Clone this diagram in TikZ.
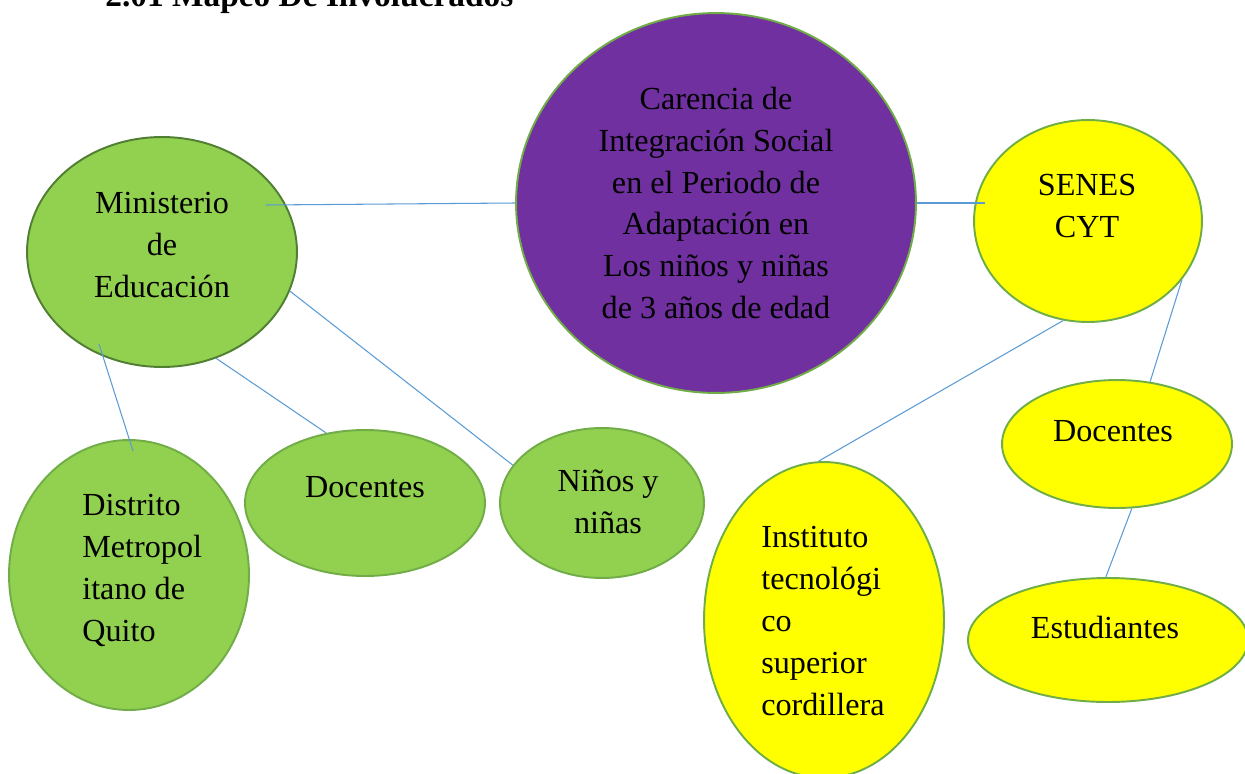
\documentclass[tikz,border=0pt]{standalone}
\usepackage{fontspec}
\setmainfont{Liberation Serif}
\usetikzlibrary{shapes.geometric}

\definecolor{leafgreen}{HTML}{92D050}
\definecolor{rimgreen}{HTML}{70AD47}
\definecolor{darkrim}{HTML}{507E32}
\definecolor{probpurple}{HTML}{7030A0}
\definecolor{sunyellow}{HTML}{FFFF00}
\definecolor{linkblue}{HTML}{5B9BD5}

\begin{document}
\begin{tikzpicture}[x=0.02cm, y=-0.02cm,
  actor/.style={ellipse, draw=rimgreen, line width=1.1pt, inner sep=0pt},
  txt/.style={font=\fontsize{18.3}{23.9}\selectfont, inner sep=0pt, align=center},
  link/.style={draw=linkblue, line width=0.6pt}]

  % Fix the size of the page
  \useasboundingbox (0,0) rectangle (1245,774);

  % Title, cut at the top of the page
  \node[anchor=base west, inner sep=0pt, font=\fontsize{19}{23}\selectfont\bfseries] (title) at (105,7) {2.01 Mapeo De Involucrados};

  % Draw the central problem
  \node[actor, fill=probpurple, minimum width=8cm, minimum height=7.6cm] (pur) at (716,203) {};
  \node[txt] (pur-t) at (716,203) {Carencia de\\Integración Social\\en el Periodo de\\Adaptación en\\Los niños y niñas\\de 3 años de edad};

  % Green side: the ministry and its groups
  \node[actor, draw=darkrim, fill=leafgreen, minimum width=5.4cm, minimum height=4.6cm] (min) at (162,252) {};
  \node[txt] (min-t) at (162,245) {Ministerio\\de\\Educación};

  \node[actor, fill=leafgreen, minimum width=4.8cm, minimum height=5.4cm] (dis) at (129,575) {};
  \node[txt, anchor=west, align=left] (dis-t) at (82,570) {Distrito\\Metropol\\itano de\\Quito};

  \node[actor, fill=leafgreen, minimum width=4.8cm, minimum height=2.92cm] (docl) at (365,503) {};
  \node[txt] (docl-t) at (365,487) {Docentes};

  \node[actor, fill=leafgreen, minimum width=4.08cm, minimum height=3cm] (nin) at (602,503) {};
  \node[txt] (nin-t) at (608,502) {Niños y\\niñas};

  % Yellow side: SENESCYT and its groups
  \node[actor, fill=sunyellow, minimum width=4.56cm, minimum height=4.04cm] (sen) at (1088,221) {};
  \node[txt] (sen-t) at (1087,206) {SENES\\CYT};

  \node[actor, fill=sunyellow, minimum width=4.6cm, minimum height=2.56cm] (docr) at (1117,444) {};
  \node[txt] (docr-t) at (1113,431) {Docentes};

  \node[actor, fill=sunyellow, minimum width=5.6cm, minimum height=2.48cm] (est) at (1108,640) {};
  \node[txt] (est-t) at (1105,627) {Estudiantes};

  \node[actor, fill=sunyellow, minimum width=4.8cm, minimum height=6.32cm] (ins) at (824,620) {};
  \node[txt, anchor=west, align=left] (ins-t) at (761,621) {Instituto\\tecnológi\\co\\superior\\cordillera};

  % Free ends of the connectors that sit inside a shape
  \coordinate (min-a) at (266,205);
  \coordinate (min-b) at (99,344);
  \coordinate (dis-a) at (133,451);
  \coordinate (sen-a) at (985,203);

  % Draw the connectors
  \draw[link] (min-a) -- (pur.west);
  \draw[link] (pur.east) -- (sen-a);
  \draw[link] (min.-17) -- (nin.157);
  \draw[link] (min.-63) -- (docl.119);
  \draw[link] (min-b) -- (dis-a);
  \draw[link] (sen.-104) -- (ins.92);
  \draw[link] (sen.-32) -- (docr.62);
  \draw[link] (docr.-77) -- (est.92);

\end{tikzpicture}
\end{document}
